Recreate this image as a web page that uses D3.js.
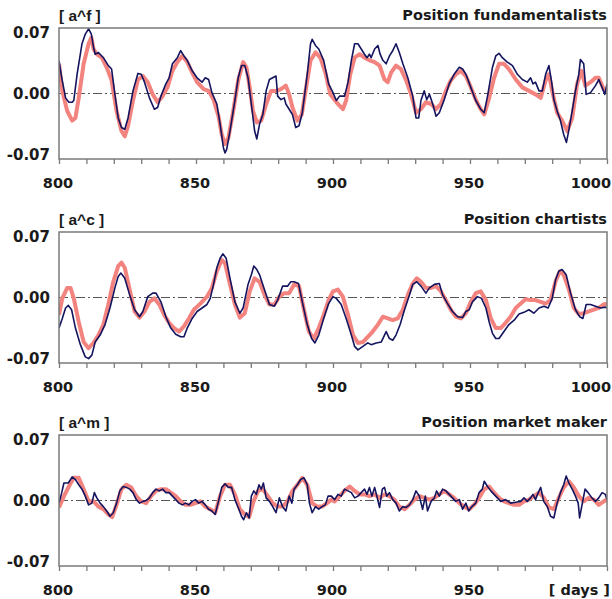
<!DOCTYPE html>
<html>
<head>
<meta charset="utf-8">
<script src="https://cdn.jsdelivr.net/npm/d3@7"></script>
<style>
  body { margin:0; background:#fff; }
  svg text { font-family: "DejaVu Sans", Verdana, sans-serif; font-weight: bold; fill:#1a1a1a; }
  svg text.unit { font-family: "Liberation Sans", Arial, sans-serif; }
</style>
</head>
<body>
<script>
const w = 612;
const h = 599;

// x axis ticks and y axis ticks
const xTicks = [800, 850, 900, 950, 1000];
const yTicks = [0.07, 0.00, -0.07];
const yTickLabels = ['0.07', '0.00', '-0.07'];
const panelTitles = ['Position fundamentalists', 'Position chartists', 'Position market maker'];
const unitLabels = ['[ a^f ]', '[ a^c ]', '[ a^m ]'];

// [day, value] pairs
const fundNavy = [[800,0.0375],[801,0.018],[802.4,-0.005],[803.6,-0.010],[804.8,-0.010],[805.4,-0.008],[806.6,0.022],[808.4,0.057],[809.6,0.068],[810.8,0.074],[811.8,0.068],[812.6,0.053],[813.2,0.045],[814.4,0.047],[816.2,0.041],[818,0.032],[819.2,0.028],[820.4,-0.001],[821.6,-0.028],[822.8,-0.039],[824,-0.041],[825.2,-0.028],[827,0.003],[828.8,0.023],[830,0.022],[831.2,0.013],[833,-0.005],[834.8,-0.018],[836,-0.016],[837.2,-0.003],[839,0.011],[840.2,0.018],[841.4,0.034],[843.2,0.041],[844.4,0.049],[845.6,0.043],[846.8,0.038],[848.6,0.026],[850.4,0.018],[852.2,0.013],[853.4,0.018],[854.6,0.016],[855.8,0.001],[857.6,-0.012],[858.8,-0.035],[860,-0.062],[860.6,-0.068],[861.2,-0.064],[862.4,-0.043],[864.2,-0.008],[865.4,0.018],[866.6,0.032],[867.8,0.032],[869,0.018],[870.2,-0.012],[871.4,-0.043],[872.2,-0.052],[873.2,-0.035],[874.4,-0.024],[875.6,0.003],[876.8,0.016],[878,0.018],[879.2,0.020],[879.8,-0.003],[881,-0.007],[882.2,-0.005],[882.8,-0.012],[884,-0.018],[885.2,-0.024],[886.4,-0.039],[887.6,-0.037],[888.8,-0.022],[890.6,0.022],[891.8,0.057],[892.4,0.062],[893.6,0.055],[894.8,0.051],[896.6,0.038],[898.4,0.011],[900,0.001],[901.2,-0.008],[902.4,-0.003],[904.2,-0.003],[905.5,0.013],[906.7,0.038],[907.9,0.057],[909.1,0.057],[910.3,0.051],[911.5,0.045],[912.4,0.041],[913.3,0.045],[913.9,0.041],[915.2,0.051],[916.4,0.055],[917.2,0.045],[918.2,0.038],[919.4,0.034],[920.6,0.043],[921.8,0.049],[923,0.057],[924.2,0.047],[925.5,0.034],[927.3,0.018],[929.1,-0.003],[930.3,-0.028],[931.3,-0.028],[932.1,-0.008],[933.3,0.003],[934.2,-0.007],[935.2,-0.001],[936.4,-0.012],[937.6,-0.026],[938.8,-0.022],[940.6,-0.007],[942.4,0.011],[944.2,0.022],[946.1,0.030],[947.3,0.028],[948.5,0.022],[950.3,0.007],[952.1,-0.008],[953.9,-0.018],[955.2,-0.022],[956.4,-0.003],[958.2,0.030],[959.4,0.043],[960.6,0.046],[961.8,0.041],[963.6,0.036],[965.5,0.032],[967.3,0.022],[969.1,0.016],[970.9,0.013],[972.1,0.018],[973,0.011],[973.9,0.013],[975.2,0.003],[976.4,0.003],[977.6,0.022],[978.8,0.032],[979.8,0.013],[980.6,-0.007],[981.8,-0.020],[983,-0.031],[984.2,-0.047],[985.2,-0.056],[986,-0.043],[987.3,-0.020],[988.5,0.003],[989.7,0.022],[990.3,0.039],[991.5,0.034],[992.4,-0.001],[994,0.001],[995.8,0.009],[997,0.016],[998.2,0.007],[999.2,-0.001],[1000,0.011]];
const fundPink = [[800,0.034],[801.2,0.003],[803,-0.020],[804.8,-0.031],[806,-0.028],[807.2,-0.005],[809,0.034],[810.8,0.057],[811.8,0.064],[812.6,0.051],[813.8,0.045],[815.6,0.041],[817.4,0.030],[819.2,0.015],[821,-0.020],[822.8,-0.043],[824,-0.049],[825.2,-0.037],[827,-0.008],[828.8,0.016],[830.6,0.020],[832.4,0.013],[834.2,-0.001],[836,-0.010],[837.8,-0.003],[839.6,0.007],[841.4,0.026],[843.2,0.036],[845,0.043],[846.8,0.036],[848.6,0.024],[850.4,0.013],[852.8,0.005],[854.6,0.003],[856.4,-0.007],[858.2,-0.026],[859.4,-0.047],[860.6,-0.058],[861.8,-0.051],[863.6,-0.020],[865.4,0.015],[867.2,0.036],[868.4,0.030],[869.6,0.007],[870.8,-0.020],[872.2,-0.033],[873.8,-0.031],[875.6,-0.012],[877.4,0.003],[879.2,0.003],[881,0.005],[882.8,0.009],[884,-0.001],[885.2,-0.016],[887,-0.031],[888.6,-0.024],[890,0.003],[891.8,0.038],[893.6,0.047],[895.4,0.041],[897.2,0.024],[899,-0.001],[900,-0.005],[901.8,-0.012],[903.6,-0.018],[904.8,-0.008],[906.3,0.022],[907.9,0.041],[909.7,0.045],[911.5,0.041],[913.3,0.038],[915.2,0.036],[917,0.032],[918.8,0.016],[920,0.013],[921.2,0.024],[923,0.032],[924.8,0.028],[926.7,0.015],[928.5,-0.001],[930.3,-0.022],[932.1,-0.018],[933.9,-0.010],[935.8,-0.012],[937.6,-0.018],[939.4,-0.012],[941.2,0.003],[943,0.015],[944.8,0.022],[946.7,0.026],[948.5,0.020],[950.3,0.007],[952.1,-0.007],[953.9,-0.018],[955.2,-0.024],[957,-0.005],[958.8,0.018],[960.6,0.034],[962.4,0.034],[964.2,0.028],[966.7,0.016],[969.1,0.007],[971.5,0.003],[973.9,-0.001],[975.8,-0.005],[977.6,0.015],[978.8,0.022],[980,0.003],[981.8,-0.022],[983.6,-0.031],[985.5,-0.043],[987.3,-0.028],[989.1,0.011],[990.7,0.026],[992.1,0.009],[994,0.013],[995.8,0.018],[997,0.018],[998.8,0.005],[1000,0.003]];

const chartNavy = [[800,-0.035],[801.2,-0.024],[802.4,-0.012],[803.4,-0.009],[804.6,-0.014],[806,-0.035],[807.8,-0.054],[809.6,-0.068],[810.8,-0.070],[812,-0.066],[813.2,-0.051],[815,-0.043],[816.8,-0.031],[818.6,-0.012],[820.4,0.011],[821.6,0.024],[822.6,0.028],[824,0.022],[825.8,0.003],[827.6,-0.014],[829.4,-0.022],[830.6,-0.016],[832.4,0.001],[834.2,0.005],[835.4,0.005],[837.2,-0.005],[839,-0.022],[840.8,-0.035],[842.6,-0.042],[844.4,-0.045],[845.6,-0.045],[846.8,-0.035],[848.6,-0.024],[850.4,-0.016],[852.2,-0.012],[854,-0.008],[855.2,-0.001],[856.4,0.015],[857.6,0.034],[858.8,0.045],[859.8,0.050],[861,0.045],[862.4,0.022],[864.2,-0.005],[866,-0.018],[867.2,-0.012],[869,0.015],[870.2,0.026],[871.1,0.036],[872.2,0.032],[873.2,0.026],[875,0.009],[876.8,-0.008],[878.6,-0.010],[879.8,-0.003],[881.6,0.013],[883.4,0.013],[884.6,0.018],[885.8,0.018],[887.4,0.016],[888.8,-0.005],[890.6,-0.031],[892.2,-0.047],[893.4,-0.052],[894.8,-0.043],[896.6,-0.024],[898.4,-0.007],[900,0.001],[901.2,-0.001],[903,-0.008],[904.8,-0.024],[906.7,-0.043],[907.9,-0.056],[909.1,-0.060],[910.9,-0.056],[912.7,-0.052],[913.9,-0.054],[915.8,-0.052],[917.6,-0.051],[918.8,-0.043],[919.4,-0.039],[920.6,-0.047],[921.8,-0.049],[923,-0.043],[924.5,-0.031],[926.1,-0.014],[927.9,0.003],[929.1,0.015],[930.6,0.018],[932.1,0.013],[933.9,0.005],[935.2,0.011],[937,0.015],[938.8,0.016],[940,0.003],[941.8,-0.007],[943.6,-0.016],[945.5,-0.022],[947.3,-0.023],[948.5,-0.016],[949.7,-0.014],[950.9,-0.005],[952.7,0.001],[954.2,-0.001],[955.8,-0.012],[957,-0.028],[958.2,-0.041],[959.4,-0.047],[960.6,-0.047],[962.4,-0.039],[964.2,-0.031],[966.1,-0.026],[967.9,-0.019],[969.7,-0.017],[971.5,-0.014],[973.3,-0.018],[975.2,-0.012],[977,-0.010],[978.5,-0.012],[980,-0.001],[981.2,0.020],[982.4,0.030],[983.6,0.032],[985.1,0.026],[986.7,0.005],[988.5,-0.014],[990,-0.022],[991.2,-0.024],[992.4,-0.008],[994,-0.008],[995.8,-0.010],[997.6,-0.012],[999.4,-0.011],[1000,-0.012]];
const chartPink = [[800,-0.020],[801.2,-0.001],[803,0.011],[804.2,0.011],[805.4,-0.001],[807.2,-0.028],[809,-0.051],[810.8,-0.058],[812.6,-0.052],[814.4,-0.043],[816.2,-0.031],[818,-0.008],[819.8,0.018],[821.6,0.036],[822.8,0.040],[824,0.034],[825.8,0.009],[827.6,-0.016],[829.4,-0.023],[831.2,-0.016],[833,-0.005],[834.8,-0.001],[836.6,-0.008],[838.4,-0.020],[840.2,-0.029],[842,-0.035],[843.8,-0.039],[845.6,-0.033],[847.4,-0.024],[849.2,-0.014],[851.6,-0.007],[854,0.001],[855.8,0.011],[857.6,0.030],[859.4,0.043],[860.6,0.039],[862.4,0.015],[864.2,-0.008],[866,-0.023],[867.8,-0.018],[869.6,0.007],[871.4,0.022],[873.2,0.018],[875,0.003],[876.8,-0.008],[878.6,-0.008],[880.4,0.001],[882.2,0.005],[884,0.005],[885.8,0.015],[887.6,0.013],[889.4,-0.014],[891.2,-0.039],[893,-0.047],[894.8,-0.035],[896.6,-0.020],[898.4,-0.003],[900,0.007],[901.8,0.009],[903.6,0.001],[905.5,-0.020],[907.3,-0.043],[909.1,-0.052],[910.9,-0.051],[912.7,-0.045],[914.5,-0.039],[916.4,-0.031],[918.2,-0.022],[920,-0.024],[921.8,-0.026],[923.6,-0.024],[925.5,-0.014],[927.3,0.003],[929.1,0.016],[930.6,0.022],[932.1,0.018],[933.9,0.011],[935.8,0.011],[937.6,0.013],[939.4,0.007],[941.2,-0.003],[943,-0.014],[944.8,-0.022],[946.7,-0.024],[948.5,-0.018],[950.3,-0.005],[952.1,0.005],[953.9,0.007],[955.8,-0.003],[957.6,-0.024],[959.4,-0.035],[961.2,-0.035],[963,-0.029],[964.8,-0.022],[966.7,-0.012],[968.5,-0.007],[970.3,-0.002],[972.1,-0.003],[973.9,-0.003],[975.8,-0.005],[977.6,-0.007],[979.4,-0.003],[981.2,0.018],[982.8,0.030],[984.2,0.026],[986.1,0.009],[987.9,-0.012],[989.7,-0.019],[991.5,-0.018],[993.3,-0.016],[995.2,-0.014],[997,-0.012],[998.8,-0.008],[1000,-0.007]];

const mmNavy = [[800,-0.003],[801,0.009],[801.8,0.020],[803.4,0.020],[804.8,0.027],[806,0.024],[807.2,0.018],[808.4,0.013],[809.6,0.005],[810.8,-0.005],[812,-0.003],[812.9,0.009],[813.8,0.003],[815,-0.003],[816.2,-0.007],[817.4,-0.012],[818.6,-0.018],[819.8,-0.014],[821,-0.003],[822.2,0.011],[823.4,0.016],[824.6,0.015],[825.8,0.013],[827,0.009],[828.2,0.001],[829.4,-0.003],[830.6,-0.001],[831.8,0.000],[833,0.003],[834.2,0.009],[835.4,0.013],[836.6,0.011],[837.8,0.013],[839,0.009],[840.2,0.009],[841.4,0.005],[842.6,0.001],[843.8,-0.003],[845,-0.005],[846.2,-0.003],[847.4,-0.005],[848.6,-0.001],[849.8,0.001],[851,-0.003],[852.2,-0.001],[853.4,-0.005],[854.6,-0.010],[855.8,-0.012],[857,-0.016],[858.2,-0.001],[859.4,0.015],[860.6,0.019],[861.8,0.015],[863,0.015],[864.2,0.001],[865.4,-0.008],[866.6,-0.018],[867.4,-0.022],[868.4,-0.014],[869.4,-0.020],[870.2,0.005],[871.1,0.011],[872,0.007],[873,0.018],[873.8,0.013],[874.6,0.020],[875.6,0.003],[876.8,-0.001],[878,-0.007],[879.2,-0.014],[880.4,0.003],[881.6,-0.007],[882.8,-0.012],[884,0.005],[885,-0.003],[885.8,0.013],[887,0.018],[888.2,0.024],[889.4,0.026],[890.6,0.018],[891.4,-0.003],[892.4,-0.014],[893.6,-0.007],[894.8,-0.010],[896,-0.007],[897.2,-0.005],[898.2,0.005],[899.4,0.005],[900.6,0.001],[901.8,0.007],[903,0.005],[904.2,0.013],[905.5,0.011],[906.7,0.009],[907.9,0.003],[909.1,0.005],[910.3,0.009],[911.5,0.013],[912.4,0.007],[913.3,0.015],[914.2,0.005],[915.2,0.015],[916,0.005],[917,-0.008],[918,0.013],[918.8,0.015],[919.6,0.005],[920.6,0.009],[921.8,0.001],[923,-0.003],[924.2,-0.012],[925.5,-0.007],[926.7,-0.008],[927.9,-0.005],[929.1,0.001],[930.3,0.011],[931.5,0.005],[932.7,-0.010],[933.7,0.005],[934.5,-0.012],[935.8,-0.001],[937,0.003],[937.8,0.011],[938.8,0.005],[940,0.013],[941.2,0.011],[942.4,0.007],[943.6,0.003],[944.8,-0.001],[946.1,0.001],[947.3,-0.010],[948.5,-0.003],[949.5,-0.012],[950.7,-0.007],[952.1,-0.003],[953.3,0.009],[954.5,0.013],[955.2,0.022],[956.4,0.016],[957.6,0.011],[958.8,0.007],[960,0.003],[961.2,-0.001],[963,0.001],[964.8,-0.003],[966.7,-0.002],[968.5,-0.001],[969.7,0.003],[970.9,-0.001],[972.1,0.003],[973,0.007],[973.9,0.001],[974.9,0.009],[975.8,0.015],[976.9,-0.001],[978.2,-0.007],[979.4,-0.018],[980.6,-0.020],[981.8,-0.003],[983,0.009],[984.2,0.018],[985.1,0.028],[986.1,0.020],[987.3,0.013],[988.5,0.005],[989.5,-0.003],[990,-0.020],[991,-0.003],[992,0.013],[993.1,0.009],[994.5,0.003],[995.8,-0.001],[997,0.003],[998.2,0.009],[999.4,0.007],[1000,0.001]];
const mmPink = [[800,-0.008],[801.8,0.005],[803.6,0.016],[805.4,0.026],[807.2,0.026],[809,0.013],[810.8,-0.001],[812.6,-0.001],[814.4,-0.007],[816.2,-0.010],[818,-0.016],[819.4,-0.019],[821,-0.005],[822.8,0.013],[824.6,0.018],[826.4,0.015],[828.2,0.005],[830,-0.001],[831.8,-0.003],[833.6,0.005],[835.4,0.011],[837.2,0.013],[839,0.013],[840.8,0.009],[842.6,0.005],[844.4,-0.001],[846.2,-0.005],[848,-0.005],[849.8,-0.003],[851.6,-0.001],[853.4,-0.007],[855.2,-0.010],[857,-0.014],[858.8,0.005],[860.6,0.018],[862.4,0.018],[864.2,0.007],[866,-0.010],[867.8,-0.016],[869.4,-0.019],[870.8,-0.003],[872.6,0.011],[874.4,0.013],[876.2,0.005],[878,-0.003],[879.8,-0.007],[881.6,-0.007],[883.4,-0.001],[885.2,0.011],[887,0.018],[888.8,0.026],[890.6,0.018],[892.4,-0.003],[894.2,-0.007],[896,-0.007],[897.8,-0.003],[899.4,0.001],[900.6,-0.001],[902.4,0.005],[904.2,0.011],[906.1,0.016],[907.9,0.011],[909.7,0.007],[911.5,0.007],[913.3,0.005],[915.2,0.007],[917,0.003],[918.8,0.007],[920.6,0.005],[922.4,0.001],[924.2,-0.007],[926.1,-0.010],[927.9,-0.005],[929.7,0.001],[931.5,0.005],[933.3,0.003],[935.2,0.001],[937,0.003],[938.8,0.007],[940.6,0.011],[942.4,0.007],[944.2,0.003],[946.1,-0.003],[947.9,-0.007],[949.7,-0.010],[951.5,-0.005],[953.3,0.003],[955.2,0.013],[957,0.016],[958.8,0.009],[960.6,0.003],[962.4,-0.001],[964.2,-0.003],[966.1,-0.005],[967.9,-0.005],[969.7,-0.001],[971.5,0.001],[973.3,0.005],[975.2,0.009],[977,0.003],[978.8,-0.008],[980.6,-0.010],[982.4,0.003],[984.2,0.015],[986.1,0.022],[987.9,0.015],[989.7,0.005],[991.5,-0.001],[993.3,0.003],[995.2,0.001],[997,-0.005],[998.8,-0.001],[1000,0.001]];

const panels = [
  {top: 28, navy: fundNavy, pink: fundPink},
  {top: 232, navy: chartNavy, pink: chartPink},
  {top: 435, navy: mmNavy, pink: mmPink}
];

const left = 59, right = 607, ph = 131;
const navyCol = '#14145f';
const pinkCol = '#f3837f';
const frameCol = '#7a7a7a';

const svg = d3.select('body').append('svg')
  .attr('width', w)
  .attr('height', h);

const x = d3.scaleLinear().domain([800, 1000]).range([left, right]);

panels.forEach((p, i) => {
  const y = d3.scaleLinear().domain([-0.075, 0.075]).range([p.top + ph, p.top]);
  const g = svg.append('g');

  g.append('clipPath').attr('id', 'clip' + i)
    .append('rect').attr('x', left).attr('y', p.top).attr('width', right - left).attr('height', ph);

  // zero line, dash-dot
  g.append('line')
    .attr('x1', left).attr('x2', right)
    .attr('y1', y(0)).attr('y2', y(0))
    .attr('stroke', '#555')
    .attr('stroke-width', 1)
    .attr('stroke-dasharray', '9,3,2,3');

  const line = d3.line().x(d => x(d[0])).y(d => y(d[1]));

  g.append('path').datum(p.pink)
    .attr('d', line)
    .attr('fill', 'none')
    .attr('stroke', pinkCol)
    .attr('stroke-width', 4)
    .attr('stroke-linejoin', 'round')
    .attr('clip-path', 'url(#clip' + i + ')');

  g.append('path').datum(p.navy)
    .attr('d', line)
    .attr('fill', 'none')
    .attr('stroke', navyCol)
    .attr('stroke-width', 1.6)
    .attr('stroke-linejoin', 'round')
    .attr('clip-path', 'url(#clip' + i + ')');

  // frame
  g.append('rect')
    .attr('x', left).attr('y', p.top)
    .attr('width', right - left).attr('height', ph)
    .attr('fill', 'none')
    .attr('stroke', frameCol)
    .attr('stroke-width', 1.5);

  // x ticks every 10 days
  const xa = d3.axisBottom(x).tickValues(d3.range(800, 1001, 10)).tickSize(5).tickFormat('');
  const ax = g.append('g').attr('transform', 'translate(0,' + (p.top + ph) + ')').call(xa);
  ax.select('.domain').remove();
  ax.selectAll('line').attr('stroke', frameCol).attr('stroke-width', 1.3);

  // x labels
  xTicks.forEach(t => {
    if (i == 2 && t == 1000) return;
    g.append('text')
      .attr('x', t == 1000 ? 611 : x(t) - 1)
      .attr('y', p.top + ph + 29)
      .attr('text-anchor', t == 1000 ? 'end' : 'middle')
      .style('font-size', '14.5px')
      .text(t);
  });

  // y labels
  yTicks.forEach((t, k) => {
    g.append('text')
      .attr('x', 50)
      .attr('y', y(t))
      .attr('dy', '0.36em')
      .attr('text-anchor', 'end')
      .style('font-size', '15px')
      .text(yTickLabels[k]);
  });

  g.append('text')
    .attr('class', 'unit')
    .attr('x', left).attr('y', p.top - 7)
    .style('font-size', '15.5px')
    .text(unitLabels[i]);

  g.append('text')
    .attr('x', right).attr('y', p.top - 8)
    .attr('text-anchor', 'end')
    .style('font-size', '14.5px')
    .text(panelTitles[i]);
});

svg.append('text')
  .attr('x', 610).attr('y', 595)
  .attr('text-anchor', 'end')
  .style('font-size', '14.5px')
  .text('[ days ]');
</script>
</body>
</html>
